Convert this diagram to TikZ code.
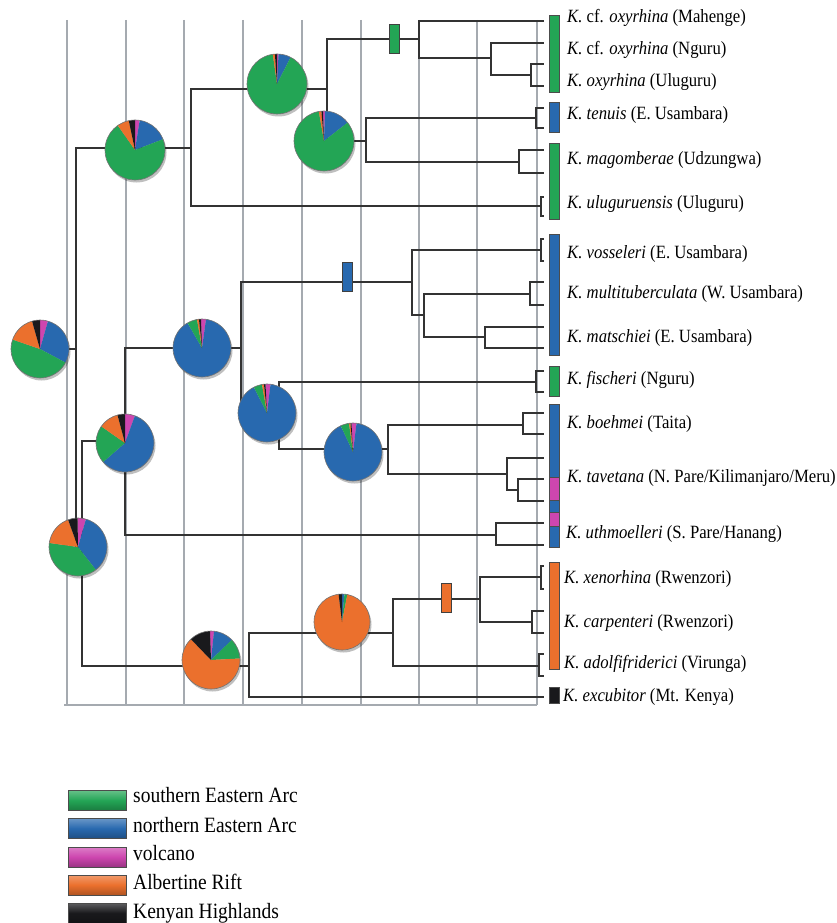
\documentclass[tikz,border=0pt]{standalone}
\usepackage{fontspec}
\setmainfont{Liberation Serif}
\usepackage{graphicx}
\usepackage{tikz}
\definecolor{sued}{RGB}{35,165,85}
\definecolor{nord}{RGB}{40,105,175}
\definecolor{vulkan}{RGB}{205,70,175}
\definecolor{rift}{RGB}{235,112,45}
\definecolor{kenia}{RGB}{25,25,28}
\definecolor{gitter}{RGB}{165,170,176}
\tikzstyle{Ast}=[line width=1.3pt,draw=black!80]
\tikzstyle{Gitter}=[line width=1.2pt,draw=gitter]
\tikzstyle{Torte}=[circle,inner sep=0pt,minimum size=58pt]
\tikzstyle{Balken}=[draw=black!70,line width=0.7pt]
\tikzstyle{Marke}=[rectangle,draw=black!75,line width=0.8pt,inner sep=0pt,minimum width=10pt,minimum height=29pt]
\tikzstyle{Name}=[anchor=base west,inner sep=0pt,font=\fontsize{16.7}{18}\selectfont]
\tikzstyle{Legende}=[rectangle,draw=black!70,line width=0.8pt,inner sep=0pt,minimum width=58pt,minimum height=20pt]
\tikzstyle{Text}=[anchor=base west,inner sep=0pt,font=\fontsize{19.5}{21}\selectfont]
\newcommand{\hoch}[1]{\scalebox{1}[1.12]{#1}}
\newcommand{\torte}[3]{%
  \fill[black,opacity=.25] ([shift={(1.5,2.5)}]#1.center) circle[radius=#2];
  \foreach \a/\b/\c in {#3}
    \fill[\c] (#1.center) -- ++(90-\a:#2pt) arc[start angle=90-\a,end angle=90-\b,radius=#2pt] -- cycle;
  \draw[black!55,line width=0.6pt] (#1.center) circle[radius=#2];
}

\begin{document}
\begin{tikzpicture}[x=1pt,y=-1pt]

		\useasboundingbox (0,0) rectangle (837,923);

		\foreach \x in {67,126,184,243,302,361,419,477,537}
		\draw[Gitter] (\x,20) -- (\x,705);
		\draw[Gitter] (64,705) -- (537,705);

		\coordinate (t1) at (544,21);
		\coordinate (t2) at (544,43);
		\coordinate (t3) at (544,64);
		\coordinate (t4) at (544,86);
		\coordinate (t5) at (544,108);
		\coordinate (t6) at (544,128);
		\coordinate (t7) at (544,150);
		\coordinate (t8) at (544,173);
		\coordinate (t9) at (544,197);
		\coordinate (t10) at (544,216);
		\coordinate (t11) at (544,239);
		\coordinate (t12) at (544,261);
		\coordinate (t13) at (544,282);
		\coordinate (t14) at (544,305);
		\coordinate (t15) at (544,327);
		\coordinate (t16) at (544,348);
		\coordinate (t17) at (544,371);
		\coordinate (t18) at (544,392);
		\coordinate (t19) at (544,413);
		\coordinate (t20) at (544,434);
		\coordinate (t21) at (544,458);
		\coordinate (t22) at (544,479);
		\coordinate (t23) at (544,501);
		\coordinate (t24) at (544,523);
		\coordinate (t25) at (544,545);
		\coordinate (t26) at (544,566);
		\coordinate (t27) at (544,589);
		\coordinate (t28) at (544,611);
		\coordinate (t29) at (544,633);
		\coordinate (t30) at (544,654);
		\coordinate (t31) at (544,676);
		\coordinate (t32) at (544,697);

		\coordinate (k1) at (531,75);
		\coordinate (k2) at (491,58);
		\coordinate (k3) at (419,39);
		\coordinate (k4) at (536,118);
		\coordinate (k5) at (519,162);
		\coordinate (k6) at (366,141);
		\coordinate (k7) at (327,89);
		\coordinate (k8) at (541,206);
		\coordinate (k9) at (191,148);
		\coordinate (k10) at (541,250);
		\coordinate (k11) at (530,294);
		\coordinate (k12) at (485,337);
		\coordinate (k13) at (424,315);
		\coordinate (k14) at (412,282);
		\coordinate (k15) at (536,382);
		\coordinate (k16) at (523,425);
		\coordinate (k17) at (518,490);
		\coordinate (k18) at (507,474);
		\coordinate (k19) at (388,449);
		\coordinate (k20) at (279,413);
		\coordinate (k21) at (241,348);
		\coordinate (k22) at (496,535);
		\coordinate (k23) at (125,441);
		\coordinate (k24) at (541,577);
		\coordinate (k25) at (532,622);
		\coordinate (k26) at (480,599);
		\coordinate (k27) at (539,666);
		\coordinate (k28) at (393,633);
		\coordinate (k29) at (249,666);
		\coordinate (k30) at (82,547);
		\coordinate (k31) at (76,349);

		\node [Torte] (p1) at (40,349) {};
		\node [Torte,minimum size=60pt] (p2) at (135,150) {};
		\node [Torte,minimum size=60pt] (p3) at (277,84) {};
		\node [Torte,minimum size=60pt] (p4) at (324,141) {};
		\node [Torte] (p5) at (125,443) {};
		\node [Torte] (p6) at (78,547) {};
		\node [Torte] (p7) at (202,348) {};
		\node [Torte] (p8) at (267,413) {};
		\node [Torte] (p9) at (353,452) {};
		\node [Torte] (p10) at (211,660) {};
		\node [Torte,minimum size=56pt] (p11) at (342,622) {};

		\draw[Ast] (k1) |- (t3) (k1) |- (t4);
		\draw[Ast] (k2) |- (t2) (k2) |- (k1);
		\draw[Ast] (k3) |- (t1) (k3) |- (k2);
		\draw[Ast] (k4) |- (t5) (k4) |- (t6);
		\draw[Ast] (k5) |- (t7) (k5) |- (t8);
		\draw[Ast] (k6) |- (k4) (k6) |- (k5);
		\draw[Ast] (k7) |- (k3) (k7) |- (k6);
		\draw[Ast] (k8) |- (t9) (k8) |- (t10);
		\draw[Ast] (k9) |- (k7) (k9) |- (k8);
		\draw[Ast] (k10) |- (t11) (k10) |- (t12);
		\draw[Ast] (k11) |- (t13) (k11) |- (t14);
		\draw[Ast] (k12) |- (t15) (k12) |- (t16);
		\draw[Ast] (k13) |- (k11) (k13) |- (k12);
		\draw[Ast] (k14) |- (k10) (k14) |- (k13);
		\draw[Ast] (k15) |- (t17) (k15) |- (t18);
		\draw[Ast] (k16) |- (t19) (k16) |- (t20);
		\draw[Ast] (k17) |- (t22) (k17) |- (t23);
		\draw[Ast] (k18) |- (t21) (k18) |- (k17);
		\draw[Ast] (k19) |- (k16) (k19) |- (k18);
		\draw[Ast] (k20) |- (k15) (k20) |- (k19);
		\draw[Ast] (k21) |- (k14) (k21) |- (k20);
		\draw[Ast] (k22) |- (t24) (k22) |- (t25);
		\draw[Ast] (k23) |- (k21) (k23) |- (k22);
		\draw[Ast] (k24) |- (t26) (k24) |- (t27);
		\draw[Ast] (k25) |- (t28) (k25) |- (t29);
		\draw[Ast] (k26) |- (k24) (k26) |- (k25);
		\draw[Ast] (k27) |- (t30) (k27) |- (t31);
		\draw[Ast] (k28) |- (k26) (k28) |- (k27);
		\draw[Ast] (k29) |- (k28) (k29) |- (t32);
		\draw[Ast] (k30) |- (k23) (k30) |- (k29);
		\draw[Ast] (k31) |- (k9) (k31) |- (k30);
		\draw[Ast] (p1) -- (k31);

		\node [Marke,fill=sued] (m1) at (394,38.5) {};
		\node [Marke,fill=nord] (m2) at (347,277) {};
		\node [Marke,fill=rift] (m3) at (446,598) {};

		\torte{p1}{29}{0/16/vulkan,16/118/nord,118/289/sued,289/344/rift,344/360/kenia}
		\torte{p2}{30}{0/9/vulkan,9/69/nord,69/325/sued,325/348/rift,348/360/kenia}
		\torte{p3}{30}{0/3/vulkan,3/27/nord,27/352/sued,352/356/rift,356/360/kenia}
		\torte{p4}{30}{-2/2/vulkan,2/52/nord,52/350/sued,350/355/rift,355/358/kenia}
		\torte{p5}{29}{0/20/vulkan,20/229/nord,229/305/sued,305/345/rift,345/360/kenia}
		\torte{p6}{29}{-1/16/vulkan,16/142/nord,142/278/sued,278/340/rift,340/359/kenia}
		\torte{p7}{29}{-2/8/vulkan,8/330/nord,330/350/sued,350/354/rift,354/358/kenia}
		\torte{p8}{29}{-3/7/vulkan,7/333/nord,333/350/sued,350/354/rift,354/357/kenia}
		\torte{p9}{29}{-3/7/vulkan,7/335/nord,335/352/sued,352/355/rift,355/357/kenia}
		\torte{p10}{29}{-2/6/vulkan,6/46/nord,46/87/sued,87/316/rift,316/358/kenia}
		\torte{p11}{28}{0/5/nord,5/11/sued,11/353/rift,353/360/kenia}

		\draw[Balken,fill=sued] (549,15) rectangle (559,92);
		\draw[Balken,fill=nord] (549,102) rectangle (559,132);
		\draw[Balken,fill=sued] (549,143) rectangle (559,219);
		\draw[Balken,fill=nord] (549,234) rectangle (559,355);
		\draw[Balken,fill=sued] (549,366) rectangle (559,396);
		\draw[Balken,fill=nord] (549,404) rectangle (559,547);
		\draw[Balken,fill=vulkan] (549,477) rectangle (559,500);
		\draw[Balken,fill=vulkan] (549,512) rectangle (559,526);
		\draw[Balken,fill=rift] (549,562) rectangle (559,669);
		\draw[Balken,fill=kenia] (549,687) rectangle (559,703);

		\node [Name] (l1) at (567,23) {\hoch{\textit{K.} cf. \textit{oxyrhina} (Mahenge)}};
		\node [Name] (l2) at (567,55) {\hoch{\textit{K.} cf. \textit{oxyrhina} (Nguru)}};
		\node [Name] (l3) at (567,87) {\hoch{\textit{K. oxyrhina} (Uluguru)}};
		\node [Name] (l4) at (567,120) {\hoch{\textit{K. tenuis} (E. Usambara)}};
		\node [Name] (l5) at (567,164) {\hoch{\textit{K. magomberae} (Udzungwa)}};
		\node [Name] (l6) at (567,208) {\hoch{\textit{K. uluguruensis} (Uluguru)}};
		\node [Name] (l7) at (567,258) {\hoch{\textit{K. vosseleri} (E. Usambara)}};
		\node [Name] (l8) at (567,298) {\hoch{\textit{K. multituberculata} (W. Usambara)}};
		\node [Name] (l9) at (567,342) {\hoch{\textit{K. matschiei} (E. Usambara)}};
		\node [Name] (l10) at (567,384) {\hoch{\textit{K. fischeri} (Nguru)}};
		\node [Name] (l11) at (567,428) {\hoch{\textit{K. boehmei} (Taita)}};
		\node [Name] (l12) at (567,482) {\hoch{\textit{K. tavetana} (N. Pare/Kilimanjaro/Meru)}};
		\node [Name] (l13) at (566,538) {\hoch{\textit{K. uthmoelleri} (S. Pare/Hanang)}};
		\node [Name] (l14) at (564,583) {\hoch{\textit{K. xenorhina} (Rwenzori)}};
		\node [Name] (l15) at (564,627) {\hoch{\textit{K. carpenteri} (Rwenzori)}};
		\node [Name] (l16) at (564,668) {\hoch{\textit{K. adolfifriderici} (Virunga)}};
		\node [Name] (l17) at (563,701) {\hoch{\textit{K. excubitor} (Mt. Kenya)}};

		\node [Legende,top color=sued!70!white,bottom color=sued!75!black,middle color=sued] (g1) at (97,800.5) {};
		\node [Legende,top color=nord!70!white,bottom color=nord!75!black,middle color=nord] (g2) at (97,828.5) {};
		\node [Legende,top color=vulkan!70!white,bottom color=vulkan!75!black,middle color=vulkan] (g3) at (97,857) {};
		\node [Legende,top color=rift!70!white,bottom color=rift!75!black,middle color=rift] (g4) at (97,885) {};
		\node [Legende,top color=kenia!70!white,bottom color=kenia!75!black,middle color=kenia] (g5) at (97,913) {};
		\node [Text] (h1) at (133,802) {\hoch{southern Eastern Arc}};
		\node [Text] (h2) at (133,832) {\hoch{northern Eastern Arc}};
		\node [Text] (h3) at (133,860) {\hoch{volcano}};
		\node [Text] (h4) at (133,889) {\hoch{Albertine Rift}};
		\node [Text] (h5) at (133,918) {\hoch{Kenyan Highlands}};

	\end{tikzpicture}
\end{document}
